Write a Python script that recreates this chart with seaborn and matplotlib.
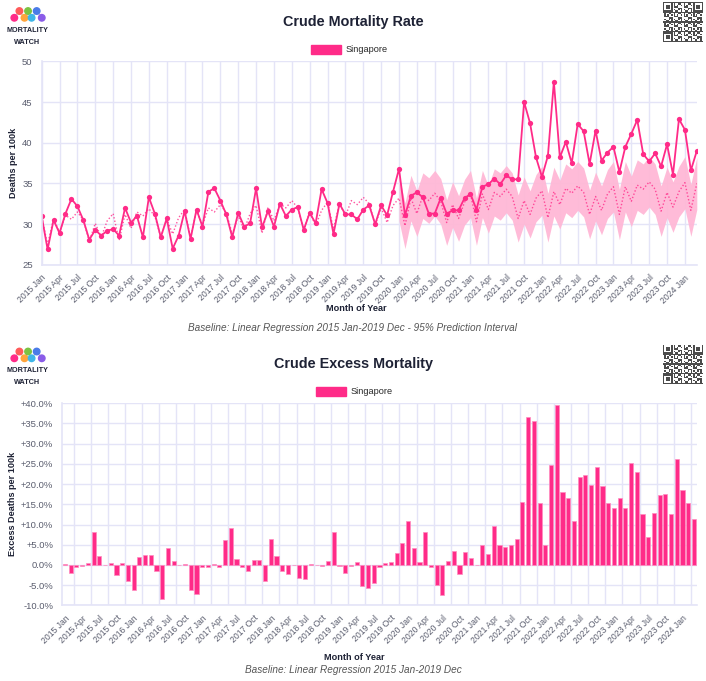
import numpy as np
import pandas as pd
import matplotlib
matplotlib.use("Agg")
import matplotlib.pyplot as plt
import seaborn as sns
from matplotlib.patches import Patch
from matplotlib.ticker import FuncFormatter, MultipleLocator

months = pd.date_range("2015-01-01", "2024-03-01", freq="MS")
month_labels = [d.strftime("%Y %b") for d in months]

# crude mortality rate, deaths per 100k (monthly)
cmr = [31.0, 26.9, 30.5, 28.9, 31.3, 33.1, 32.2, 30.5, 28.1, 29.3, 28.6, 29.2,
       29.4, 28.6, 32.0, 30.2, 31.0, 28.4, 33.3, 31.3, 28.4, 30.7, 27.0, 28.6,
       31.6, 28.2, 31.8, 29.7, 34.0, 34.4, 32.9, 31.2, 28.4, 31.4, 29.7, 30.1,
       34.4, 29.6, 31.6, 29.7, 32.5, 31.0, 31.8, 32.1, 29.3, 31.4, 30.1, 34.3,
       32.6, 28.8, 32.5, 31.2, 31.2, 30.6, 31.8, 32.3, 30.0, 32.3, 31.1, 34.0,
       36.8, 31.1, 33.5, 33.9, 33.3, 31.3, 31.3, 33.2, 31.3, 31.7, 31.7, 33.2,
       33.7, 31.8, 34.6, 34.9, 35.6, 34.9, 36.0, 35.5, 35.5, 45.0, 42.4, 38.2,
       35.8, 38.4, 47.5, 38.2, 40.1, 37.5, 42.3, 41.4, 37.4, 41.5, 37.8, 38.8,
       39.5, 36.4, 39.5, 41.1, 42.8, 38.6, 37.7, 38.7, 37.1, 39.8, 36.1, 42.9,
       41.6, 36.6, 39.0]

# baseline (linear regression 2015 Jan - 2019 Dec)
baseline = [30.9, 27.5, 30.7, 29.0, 31.1, 30.6, 31.5, 30.5, 27.9, 30.1, 28.4, 30.4,
            31.3, 28.0, 31.2, 29.5, 31.5, 31.0, 31.9, 31.0, 28.4, 30.6, 28.8, 30.8,
            31.8, 28.3, 31.7, 29.9, 32.0, 31.5, 32.4, 31.4, 28.8, 31.0, 29.3, 31.3,
            32.3, 28.9, 32.1, 30.4, 32.5, 32.0, 32.9, 32.0, 29.3, 31.5, 29.8, 31.7,
            32.7, 29.4, 32.6, 31.0, 32.9, 32.4, 33.3, 32.5, 29.9, 32.0, 30.2, 32.3,
            33.2, 29.8, 33.2, 31.3, 33.5, 32.9, 33.8, 32.8, 30.2, 32.4, 30.7, 32.7,
            33.7, 30.3, 33.7, 31.8, 33.9, 33.4, 34.3, 33.4, 30.7, 32.9, 31.2, 33.2,
            34.1, 30.8, 34.0, 32.4, 34.4, 33.8, 34.7, 33.9, 31.2, 33.4, 31.7, 33.7,
            34.6, 31.2, 34.6, 32.8, 34.8, 34.3, 35.2, 34.3, 31.6, 33.9, 32.1, 34.0,
            35.1, 31.7, 35.0]

# 95% prediction interval, 2020 Jan onwards
pi_start = 60
pi_lower = [30.4, 27.0, 30.4, 28.5, 30.7, 30.1, 31.0, 30.0, 27.4, 29.6, 27.9, 29.9,
            30.8, 27.4, 30.8, 28.9, 31.0, 30.5, 31.4, 30.5, 27.8, 30.0, 28.3, 30.3,
            31.1, 27.8, 31.0, 29.4, 31.4, 30.8, 31.7, 30.9, 28.2, 30.4, 28.7, 30.7,
            31.5, 28.1, 31.5, 29.7, 31.7, 31.2, 32.1, 31.2, 28.5, 30.8, 29.0, 30.9,
            31.9, 28.5, 31.8]
pi_upper = [36.0, 32.6, 36.0, 34.1, 36.3, 35.7, 36.6, 35.6, 33.0, 35.2, 33.5, 35.5,
            36.6, 33.2, 36.6, 34.7, 36.8, 36.3, 37.2, 36.3, 33.6, 35.8, 34.1, 36.1,
            37.1, 33.8, 37.0, 35.4, 37.4, 36.8, 37.7, 36.9, 34.2, 36.4, 34.7, 36.7,
            37.7, 34.3, 37.7, 35.9, 37.9, 37.4, 38.3, 37.4, 34.7, 37.0, 35.2, 37.1,
            38.3, 34.9, 38.2]

# crude excess mortality, percent
excess_pct = [0.3, -2.1, -0.5, -0.3, 0.6, 8.1, 2.2, 0.0, 0.6, -2.6, 0.6, -3.9,
              -6.1, 2.0, 2.5, 2.4, -1.6, -8.4, 4.3, 0.9, 0.0, 0.3, -6.3, -7.2,
              -0.5, -0.5, 0.3, -0.6, 6.2, 9.2, 1.5, -0.5, -1.4, 1.2, 1.2, -3.9,
              6.4, 2.3, -1.6, -2.3, 0.0, -3.2, -3.4, 0.3, 0.0, -0.2, 0.9, 8.1,
              -0.2, -2.1, -0.2, 0.8, -5.2, -5.6, -4.5, -0.6, 0.5, 0.8, 2.9, 5.4,
              10.8, 4.2, 0.8, 8.2, -0.5, -4.9, -7.4, 1.1, 3.5, -2.2, 3.1, 1.6,
              0.0, 4.9, 2.8, 9.6, 4.9, 4.5, 4.9, 6.3, 15.5, 36.6, 35.7, 15.2,
              4.9, 24.6, 39.6, 18.0, 16.6, 10.8, 21.8, 22.2, 19.8, 24.2, 19.4, 15.2,
              14.1, 16.6, 14.2, 25.2, 22.9, 12.6, 7.0, 12.9, 17.3, 17.5, 12.6, 26.1,
              18.5, 15.3, 11.3]

PINK = "#FF2B88"
BAND = "#FFB8D6"
GRID = "#E4E4F7"
NAVY = "#1E2235"
TICK = "#5A5D6E"

sns.set_style("white")
plt.rcParams["font.family"] = ["Liberation Sans", "DejaVu Sans"]

df = pd.DataFrame({"idx": np.arange(len(cmr)), "cmr": cmr, "baseline": baseline,
                   "excess": excess_pct})
pi = pd.DataFrame({"idx": np.arange(pi_start, pi_start + len(pi_lower)),
                   "lower": pi_lower, "upper": pi_upper})

fig = plt.figure(figsize=(7.06, 6.81), dpi=100)
ax1 = fig.add_axes([0.059, 0.611, 0.928, 0.299])
ax2 = fig.add_axes([0.088, 0.111, 0.899, 0.297])

tick_pos = list(range(0, len(cmr), 3))
tick_lab = [month_labels[i] for i in tick_pos]


def style_axes(ax):
    for s in ax.spines.values():
        s.set_visible(False)
    for side in ("left", "bottom"):
        ax.spines[side].set_visible(True)
        ax.spines[side].set_color(GRID)
        ax.spines[side].set_linewidth(1.2)
    ax.tick_params(axis="both", colors=TICK, labelsize=6.8, length=3, width=0.8)
    ax.tick_params(axis="x", labelsize=6.2, pad=3)
    ax.tick_params(axis="both", color=GRID)
    ax.set_axisbelow(True)


def add_legend(ax, x):
    ax.legend(handles=[Patch(facecolor=PINK, edgecolor=PINK)], labels=["Singapore"],
              loc="lower center", bbox_to_anchor=(x, 1.0), frameon=False,
              fontsize=6.6, handlelength=3.3, handleheight=1.1, handletextpad=0.5,
              borderaxespad=0.35)


# ---- top: crude mortality rate ----
ax1.fill_between(pi["idx"], pi["lower"], pi["upper"], color=BAND, lw=0, alpha=0.95)
sns.lineplot(data=df, x="idx", y="baseline", ax=ax1, color=PINK, lw=1.0,
             linestyle=(0, (1, 1.5)), alpha=0.8)
sns.lineplot(data=df, x="idx", y="cmr", ax=ax1, color=PINK, lw=1.3,
             marker="o", markersize=3.8, markeredgewidth=0)
ax1.set_xlim(0, len(cmr) - 1)
ax1.set_ylim(25, 50)
ax1.yaxis.set_major_locator(MultipleLocator(5))
ax1.set_xticks(tick_pos)
ax1.set_xticklabels(tick_lab, rotation=45, ha="right", rotation_mode="anchor")
ax1.grid(True, color=GRID, lw=1.0)
style_axes(ax1)
ax1.set_ylabel("Deaths per 100k", fontsize=6.6, fontweight="bold", color=NAVY, labelpad=3)
ax1.set_xlabel("Month of Year", fontsize=6.6, fontweight="bold", color=NAVY)
ax1.xaxis.set_label_coords(0.48, -0.19)
add_legend(ax1, 0.47)
fig.text(0.5, 0.967, "Crude Mortality Rate", ha="center", va="center",
         fontsize=10.4, fontweight="bold", color=NAVY)
fig.text(0.5, 0.518, "Baseline: Linear Regression 2015 Jan-2019 Dec - 95% Prediction Interval",
         ha="center", va="center", fontsize=7.2, style="italic", color="#555555")

# ---- bottom: crude excess mortality ----
sns.barplot(data=df, x="idx", y="excess", ax=ax2, color=PINK, errorbar=None,
            width=0.72, edgecolor="#FF8CC0", linewidth=0.5, saturation=1)
ax2.set_xlim(-0.5, len(cmr) - 0.5)
ax2.set_ylim(-10, 40)
ax2.yaxis.set_major_locator(MultipleLocator(5))
ax2.yaxis.set_major_formatter(FuncFormatter(
    lambda v, p: "0.0%" if abs(v) < 1e-9 else f"{v:+.1f}%"))
ax2.set_xticks(tick_pos)
ax2.set_xticklabels(tick_lab, rotation=45, ha="right", rotation_mode="anchor")
ax2.set_xticks([p + 1.5 for p in tick_pos], minor=True)
ax2.tick_params(axis="x", which="minor", length=0)
ax2.grid(True, axis="y", color=GRID, lw=1.0)
ax2.grid(True, axis="x", which="minor", color=GRID, lw=1.0)
ax2.grid(False, axis="x", which="major")
style_axes(ax2)
ax2.set_ylabel("Excess Deaths per 100k", fontsize=6.6, fontweight="bold", color=NAVY,
               labelpad=3)
ax2.set_xlabel("Month of Year", fontsize=6.6, fontweight="bold", color=NAVY)
ax2.xaxis.set_label_coords(0.46, -0.235)
add_legend(ax2, 0.46)
fig.text(0.5, 0.466, "Crude Excess Mortality", ha="center", va="center",
         fontsize=10.4, fontweight="bold", color=NAVY)
fig.text(0.5, 0.016, "Baseline: Linear Regression 2015 Jan-2019 Dec",
         ha="center", va="center", fontsize=7.2, style="italic", color="#555555")


# ---- logo and QR decorations ----
def draw_logo(y_top):
    lx = fig.add_axes([0.003, y_top - 0.062, 0.072, 0.062])
    lx.set_xlim(0, 10)
    lx.set_ylim(0, 10)
    lx.axis("off")
    xs = [2.4, 3.4, 4.4, 5.1, 5.8, 6.8, 7.8]
    ys = [7.4, 9.0, 7.4, 9.0, 7.4, 9.0, 7.4]
    cols = ["#FF2B88", "#FF5A5A", "#FFA53B", "#7CC242", "#3FB6E8", "#4A7BE8", "#8A5CE8"]
    lx.plot(xs, ys, color="#D0D0D0", lw=1.0, zorder=1)
    lx.scatter(xs, ys, s=22, c=cols, zorder=2)
    lx.text(5, 4.4, "MORTALITY", ha="center", va="center", fontsize=5.2,
            fontweight="bold", color=NAVY)
    lx.text(5, 1.6, "WATCH", ha="center", va="center", fontsize=5.2,
            fontweight="bold", color=NAVY)


def draw_qr(y_top):
    qx = fig.add_axes([0.939, y_top - 0.058, 0.057, 0.058])
    n = 29
    grid = np.zeros((n, n))
    for i in range(n):
        for j in range(n):
            grid[i, j] = ((i * i * 3 + j * 7 + i * j * 5) % 7) < 3
    for (r, c) in [(0, 0), (0, n - 7), (n - 7, 0)]:
        grid[r:r + 7, c:c + 7] = 1
        grid[r + 1:r + 6, c + 1:c + 6] = 0
        grid[r + 2:r + 5, c + 2:c + 5] = 1
    qx.imshow(grid, cmap="Greys", interpolation="nearest", vmin=0, vmax=1.3)
    qx.axis("off")


draw_logo(0.99)
draw_qr(0.997)
draw_logo(0.49)
draw_qr(0.494)

fig.savefig("out.png", dpi=100, facecolor="white")
